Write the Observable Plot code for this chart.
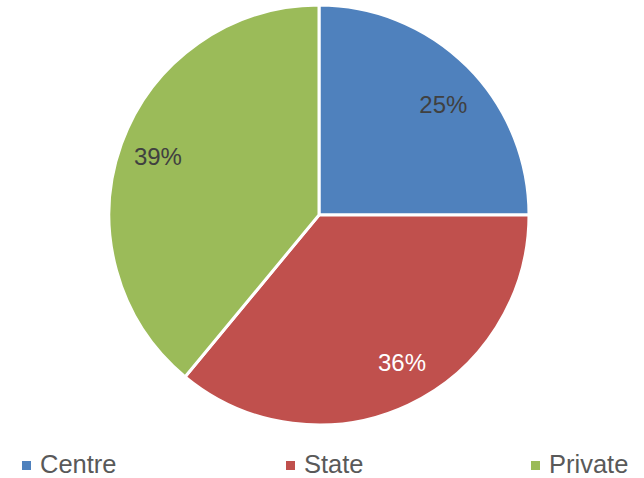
<!DOCTYPE html>
<html>
<head>
<meta charset="utf-8">
<script src="https://cdn.jsdelivr.net/npm/d3@7"></script>
<script src="https://cdn.jsdelivr.net/npm/@observablehq/plot@0.6"></script>
<style>
  html, body { margin: 0; padding: 0; background: #fff; }
  body { position: relative; width: 644px; height: 478px; overflow: hidden; font-family: "Liberation Sans", Arial, sans-serif; }
  .lt { position: absolute; top: 450px; font-size: 25.5px; color: #595959; line-height: normal; white-space: nowrap; }
  .sw { position: absolute; top: 461px; width: 9px; height: 9px; }
</style>
</head>
<body>
<div id="chart"></div>
<script>
const categories = ["Centre", "State", "Private"];
const values = [25, 36, 39];
const labels = ["25%", "36%", "39%"];
const colors = ["#4F81BD", "#C0504D", "#9BBB59"];

// styling (not data)
const labelColors = {Centre: "#404040", State: "#ffffff", Private: "#404040"};
const labelNudge = {Centre: [5, 9], State: [11, -4], Private: [-3.5, -1.5]};

const W = 644, H = 445;
const cx = 319, cy = 215, R = 210;

const data = categories.map((c, i) => ({category: c, value: values[i], label: labels[i], color: colors[i]}));
const arcs = d3.pie().sort(null).value(d => d.value)(data);
const labelArc = d3.arc().innerRadius(168).outerRadius(168);
arcs.forEach(a => {
  const [lx, ly] = labelArc.centroid(a);
  const n = labelNudge[a.data.category];
  a.lx = cx + lx + n[0];
  a.ly = cy + ly + n[1];
});

function wedges(index, scales, values, dimensions, context) {
  const x0 = scales.x(cx), y0 = scales.y(cy);
  const r = scales.x(cx + R) - scales.x(cx);
  const arc = d3.arc().innerRadius(0).outerRadius(r);
  const g = d3.create("svg:g").attr("transform", `translate(${x0},${y0})`);
  g.selectAll("path").data(arcs).join("path")
    .attr("d", arc)
    .attr("fill", d => d.data.color)
    .attr("stroke", "#fff")
    .attr("stroke-width", 3)
    .attr("stroke-linejoin", "round");
  return g.node();
}

const plot = Plot.plot({
  width: W, height: H,
  margin: 0,
  x: {domain: [0, W], range: [0, W], axis: null},
  y: {domain: [0, H], range: [0, H], axis: null},
  style: {fontFamily: "Liberation Sans, Arial, sans-serif", background: "#fff"},
  marks: [
    wedges,
    Plot.text(arcs, {
      x: "lx", y: "ly",
      text: d => d.data.label,
      fill: d => labelColors[d.data.category],
      fontSize: 24,
      textAnchor: "middle"
    })
  ]
});
document.getElementById("chart").appendChild(plot);

// legend below the SVG
const swatchX = [22, 286, 531];
const textX = [40, 304, 549];
categories.forEach((c, i) => {
  const sw = document.createElement("div");
  sw.className = "sw";
  sw.style.left = swatchX[i] + "px";
  sw.style.background = colors[i];
  document.body.appendChild(sw);
  const t = document.createElement("div");
  t.className = "lt";
  t.style.left = textX[i] + "px";
  t.textContent = c;
  document.body.appendChild(t);
});
</script>
</body>
</html>
